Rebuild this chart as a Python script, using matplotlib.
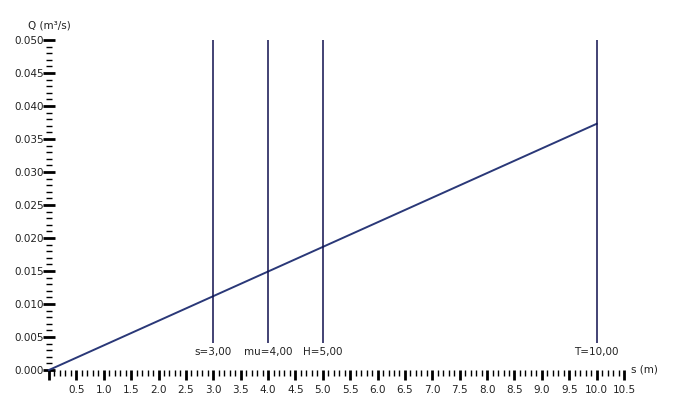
import matplotlib.pyplot as plt
from matplotlib.ticker import MultipleLocator

# discharge line
s_vals = [0.0, 10.0]
q_vals = [0.0, 0.0373]

# marker lines
marker_pos = [3.0, 4.0, 5.0, 10.0]
marker_labels = ["s=3,00", "mu=4,00", "H=5,00", "T=10,00"]

fig = plt.figure(figsize=(6.84, 4.2), dpi=100)
ax = fig.add_axes([49 / 684, 50 / 420, 575 / 684, 330 / 420])

ax.plot(s_vals, q_vals, color="#2a3878", lw=1.4, clip_on=False)

for xp, lab in zip(marker_pos, marker_labels):
    ax.vlines(xp, 0.0041, 0.050, color="#10104e", lw=1.1)
    ax.text(xp, 0.0027, lab, ha="center", va="center", fontsize=7.5, color="#222222")

ax.set_xlim(0, 10.5)
ax.set_ylim(0, 0.050)

for sp in ax.spines.values():
    sp.set_visible(False)

ax.xaxis.set_minor_locator(MultipleLocator(0.1))
ax.yaxis.set_minor_locator(MultipleLocator(0.001))

ax.set_xticks([i * 0.5 for i in range(22)])
ax.set_xticklabels([""] + ["%.1f" % (i * 0.5) for i in range(1, 22)])
ax.set_yticks([i * 0.005 for i in range(11)])
ax.set_yticklabels(["%.3f" % (i * 0.005) for i in range(11)])

ax.tick_params(axis="both", labelcolor="#222222")
ax.tick_params(axis="x", which="major", direction="out", length=7, width=2,
               labelsize=7.5, pad=4)
ax.tick_params(axis="x", which="minor", direction="out", length=4, width=1)
ax.tick_params(axis="y", which="major", direction="inout", length=9, width=2,
               labelsize=7.5, pad=-1)
ax.tick_params(axis="y", which="minor", direction="inout", length=5, width=1)

ax.text(0, 1.045, "Q (m³/s)", transform=ax.transAxes, ha="center", va="center",
        fontsize=7.5, color="#222222")
ax.text(1.012, 0.0, "s (m)", transform=ax.transAxes, ha="left", va="center",
        fontsize=7.5, color="#222222")

plt.savefig("out.png", dpi=100)
